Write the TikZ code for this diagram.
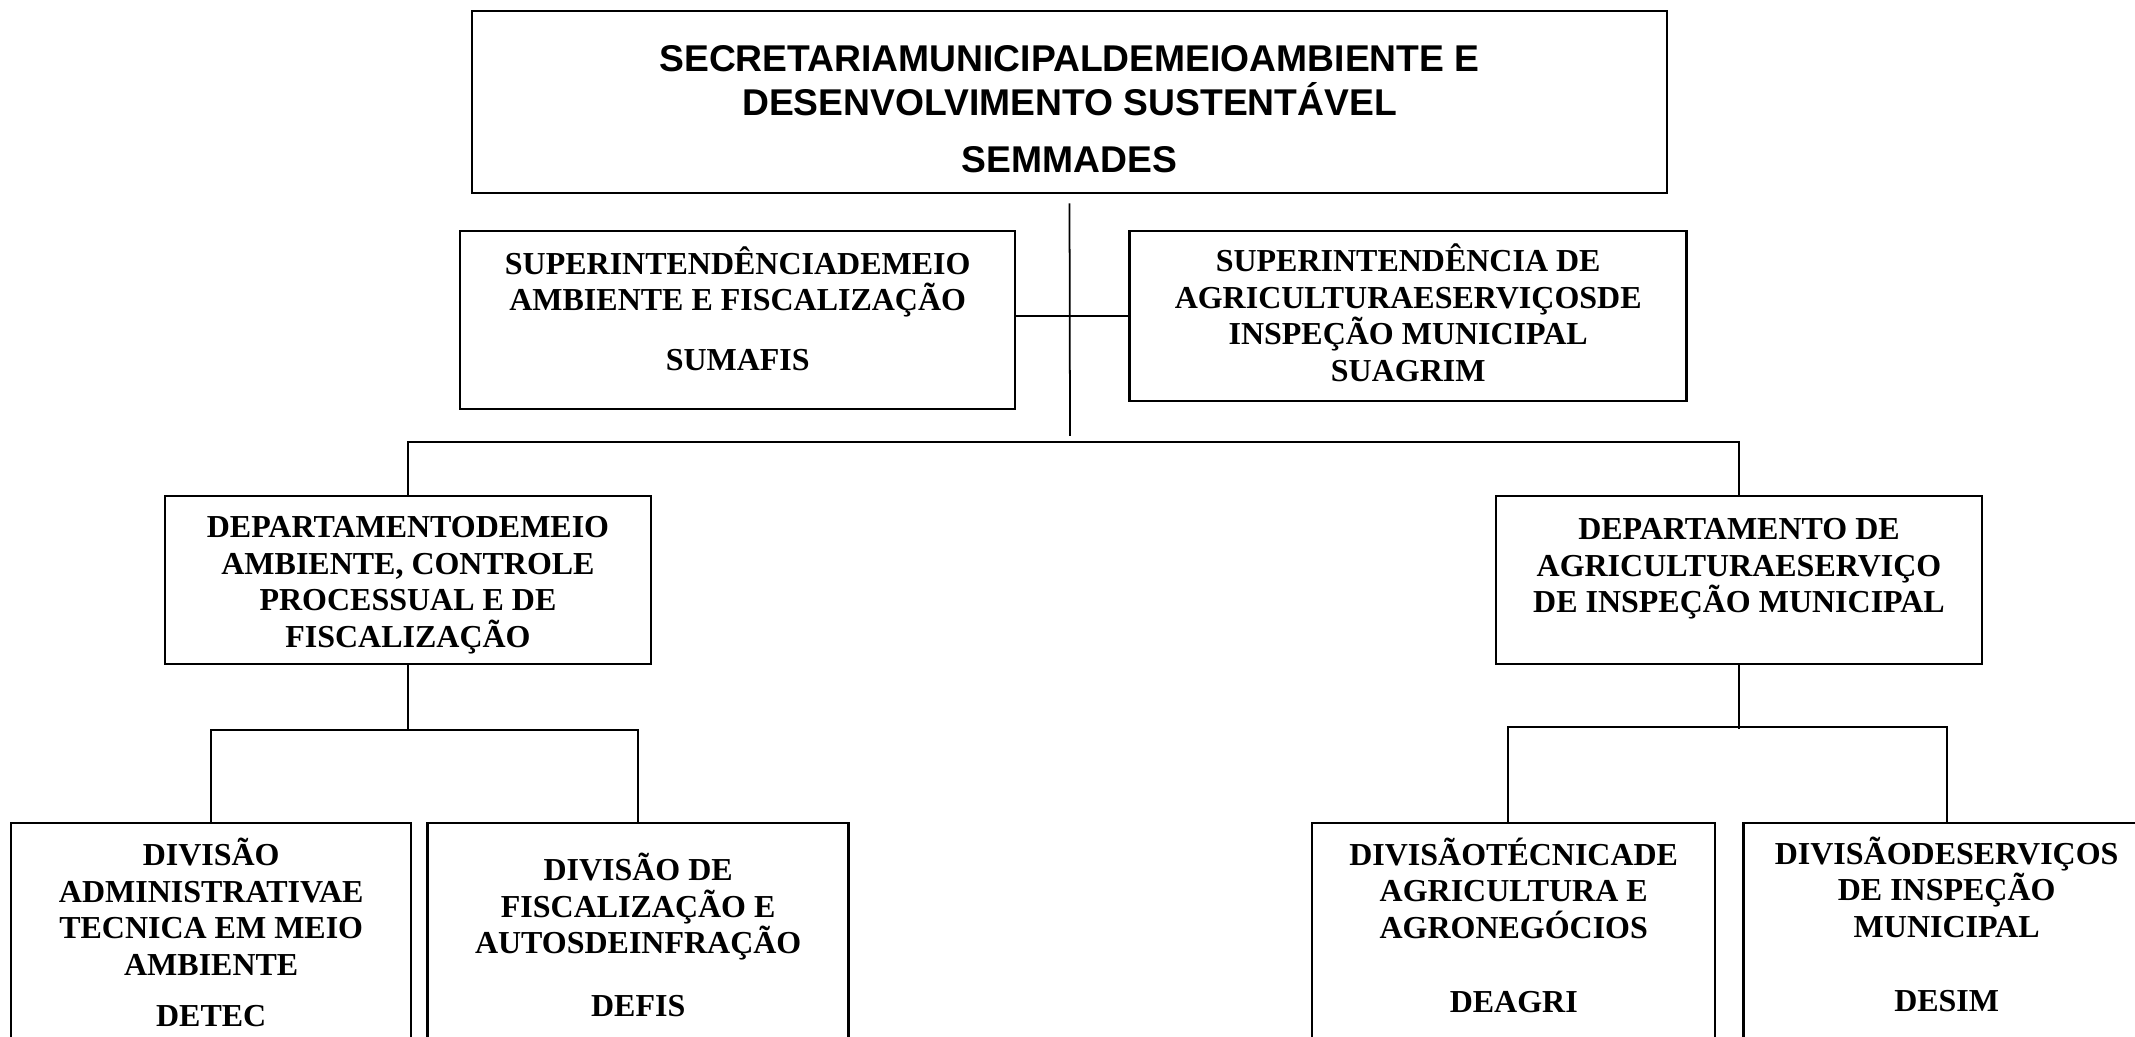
\documentclass[tikz,border=0pt]{standalone}
\usepackage{fontspec}
\setmainfont{Liberation Serif}
\newfontfamily\headfont{Liberation Sans}
\usetikzlibrary{positioning}

\begin{document}
\begin{tikzpicture}[
    headbox/.style={rectangle, draw, line width=0.8pt, align=center, inner sep=0pt, font=\headfont\fontsize{10.6}{12.5}\selectfont\bfseries},
    unitbox/.style={rectangle, draw, line width=0.7pt, align=center, inner sep=0pt, font=\fontsize{9.1}{10.4}\selectfont\bfseries},
    link/.style={line width=0.5pt},
    node distance=0.3cm
]
\useasboundingbox (0,0) rectangle (21.35,-10.37);

% Level 1: Secretaria
\node[headbox, minimum width=11.95cm, minimum height=1.82cm] (semmades) at (10.695,-1.02) {\rule{0pt}{11.6pt}SECRETARIAMUNICIPALDEMEIOAMBIENTE E\\DESENVOLVIMENTO SUSTENTÁVEL\\[0.13cm]SEMMADES};

% Level 2: Superintendencias
\node[unitbox, minimum width=5.55cm, minimum height=1.78cm, anchor=north west] (sumafis) at (4.59,-2.30) {SUPERINTENDÊNCIADEMEIO\\AMBIENTE E FISCALIZAÇÃO\\[0.23cm]SUMAFIS\rule[-0.24cm]{0pt}{0pt}};
\node[unitbox, minimum width=5.57cm, minimum height=1.70cm, right=1.12cm of sumafis.north east, anchor=north west] (suagrim) {SUPERINTENDÊNCIA DE\\AGRICULTURAESERVIÇOSDE\\INSPEÇÃO MUNICIPAL\\SUAGRIM\rule[-0.07cm]{0pt}{0pt}};

% Level 3: Departamentos
\node[unitbox, minimum width=4.86cm, minimum height=1.68cm] (depma) at (4.08,-5.80) {\rule{0pt}{9.1pt}DEPARTAMENTODEMEIO\\AMBIENTE, CONTROLE\\PROCESSUAL E DE\\FISCALIZAÇÃO};
\node[unitbox, minimum width=4.86cm, minimum height=1.68cm] (depag) at (17.39,-5.80) {\rule{0pt}{8.3pt}DEPARTAMENTO DE\\AGRICULTURAESERVIÇO\\DE INSPEÇÃO MUNICIPAL\\\mbox{}};

% Level 4: Divisoes
\node[unitbox, minimum width=4.00cm, minimum height=2.24cm, anchor=north west] (detec) at (0.10,-8.22) {DIVISÃO\\ADMINISTRATIVAE\\TECNICA EM MEIO\\AMBIENTE\\[0.145cm]DETEC\rule[-0.06cm]{0pt}{0pt}};
\node[unitbox, minimum width=4.21cm, minimum height=2.24cm, right=0.14cm of detec] (defis) {DIVISÃO DE\\FISCALIZAÇÃO E\\AUTOSDEINFRAÇÃO\\[0.265cm]DEFIS};
\node[unitbox, minimum width=4.03cm, minimum height=2.24cm, anchor=north west] (deagri) at (13.11,-8.22) {DIVISÃOTÉCNICADE\\AGRICULTURA E\\AGRONEGÓCIOS\\[0.375cm]DEAGRI\rule[-0.2cm]{0pt}{0pt}};
\node[unitbox, minimum width=4.06cm, minimum height=2.24cm, right=0.26cm of deagri] (desim) {DIVISÃODESERVIÇOS\\DE INSPEÇÃO\\MUNICIPAL\\[0.375cm]DESIM\rule[-0.22cm]{0pt}{0pt}};

% Connections
\coordinate (trunk) at (10.70,-4.36);
\draw[link, shorten <=0.09cm] (semmades.south) -- (trunk);
\draw[link] (suagrim.west) -- (suagrim.west -| sumafis.east);

\draw[link] (depma.north) -- ++(0,0.53) -| (depag.north);

\draw[link] (depma.south) -- ++(0,-0.66);
\draw[link] (detec.north) -- ++(0,0.92) -| (defis.north);

\draw[link] (depag.south) -- ++(0,-0.64);
\draw[link] ([xshift=-0.06cm]deagri.north) -- ++(0,0.95) -| (desim.north);

\end{tikzpicture}
\end{document}
